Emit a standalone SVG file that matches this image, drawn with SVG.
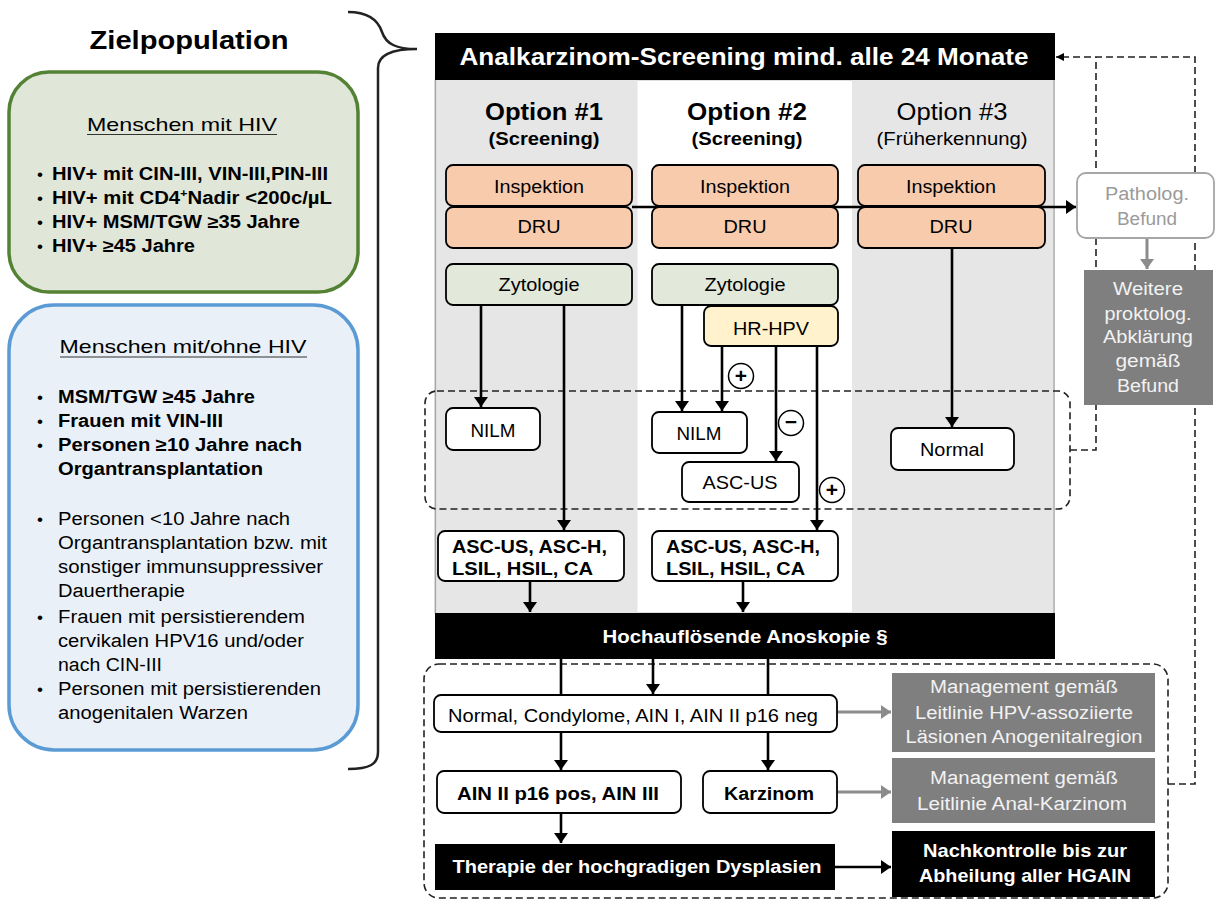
<svg xmlns="http://www.w3.org/2000/svg" width="1215" height="902" viewBox="0 0 1215 902">
<style>
text{font-family:"Liberation Sans",Arial,Helvetica,sans-serif;fill:#000}
.b{font-weight:bold}
.m{text-anchor:middle}
.w{fill:#fff}
.lg{fill:#f2f2f2}
.gt{fill:#9a9a9a}
.box{fill:#fff;stroke:#000;stroke-width:1.8}
.insp{fill:#f8cbad;stroke:#000;stroke-width:1.8}
.zyt{fill:#e2e8da;stroke:#000;stroke-width:1.8}
.hpv{fill:#fff2cc;stroke:#000;stroke-width:1.8}
.blk{fill:#000}
.gry{fill:#7f7f7f}
.arr{fill:none;stroke:#000;stroke-width:2.6;marker-end:url(#ah)}
.ln{fill:none;stroke:#000;stroke-width:2.6}
.garr{fill:none;stroke:#8c8c8c;stroke-width:3;marker-end:url(#gh)}
.dash{fill:none;stroke:#222;stroke-width:1.6;stroke-dasharray:7 4}
.circ{fill:#fff;stroke:#000;stroke-width:1.5}
</style>
<defs>
<marker id="ah" viewBox="0 0 10 14" refX="10" refY="7" markerWidth="10" markerHeight="14" markerUnits="userSpaceOnUse" orient="auto"><path d="M0,0 L10,7 L0,14 z" fill="#000"/></marker>
<marker id="gh" viewBox="0 0 10 14" refX="10" refY="7" markerWidth="10" markerHeight="14" markerUnits="userSpaceOnUse" orient="auto"><path d="M0,0 L10,7 L0,14 z" fill="#8c8c8c"/></marker>
<marker id="sh" viewBox="0 0 10 10" refX="10" refY="5" markerWidth="8" markerHeight="8" markerUnits="userSpaceOnUse" orient="auto"><path d="M0,0 L10,5 L0,10 z" fill="#000"/></marker>
</defs>

<!-- Left side -->
<g id="title">
<text x="189" y="49" class="b m" font-size="26" textLength="199" lengthAdjust="spacingAndGlyphs">Zielpopulation</text>
</g>
<g id="brace">
<path d="M348,12 C368,12 378,20 382,32 C386,44 396,49 417,49 C394,49 378,54 378,68 L378,752 C378,764 370,769 348,769" fill="none" stroke="#222" stroke-width="2.5"/>
</g>

<g id="hiv">
<rect x="9" y="72" width="349" height="220" rx="40" fill="#e0e6d8" stroke="#548235" stroke-width="3.5"/>
<text x="182" y="131" class="m" font-size="18.5" fill="#222" textLength="190" lengthAdjust="spacingAndGlyphs">Menschen  mit HIV</text>
<line x1="87" y1="134.5" x2="277" y2="134.5" stroke="#333" stroke-width="1.2"/>
<g font-size="17">
<text x="40" y="180" class="m">•</text>
<text x="40" y="204" class="m">•</text>
<text x="40" y="228" class="m">•</text>
<text x="40" y="252" class="m">•</text>
</g>
<g font-size="17.5" class="b">
<text x="52" y="180" class="b" textLength="276" lengthAdjust="spacingAndGlyphs">HIV+ mit CIN-III, VIN-III,PIN-III</text>
<text x="52" y="204" class="b" textLength="280" lengthAdjust="spacingAndGlyphs">HIV+ mit CD4<tspan font-size="11" dy="-7">+</tspan><tspan dy="7">Nadir &lt;200c/µL</tspan></text>
<text x="52" y="228" class="b" textLength="248" lengthAdjust="spacingAndGlyphs">HIV+ MSM/TGW ≥35 Jahre</text>
<text x="52" y="252" class="b" textLength="143" lengthAdjust="spacingAndGlyphs">HIV+ ≥45 Jahre</text>
</g>
</g>

<g id="hiv-ohne">
<rect x="9" y="305" width="349" height="445" rx="45" fill="#eaf0f7" stroke="#5b9bd5" stroke-width="3.5"/>
<text x="183" y="353" class="m" font-size="18.5" fill="#222" textLength="247" lengthAdjust="spacingAndGlyphs">Menschen  mit/ohne HIV</text>
<line x1="60" y1="357" x2="307" y2="357" stroke="#333" stroke-width="1.2"/>
<g font-size="17">
<text x="40" y="403" class="m">•</text>
<text x="40" y="427" class="m">•</text>
<text x="40" y="451" class="m">•</text>
<text x="40" y="525" class="m">•</text>
<text x="40" y="623" class="m">•</text>
<text x="40" y="695" class="m">•</text>
</g>
<g font-size="18">
<text x="58" y="403" class="b" textLength="197" lengthAdjust="spacingAndGlyphs">MSM/TGW ≥45 Jahre</text>
<text x="58" y="427" class="b" textLength="165" lengthAdjust="spacingAndGlyphs">Frauen mit VIN-III</text>
<text x="58" y="451" class="b" textLength="244" lengthAdjust="spacingAndGlyphs">Personen ≥10 Jahre nach</text>
<text x="58" y="475" class="b" textLength="205" lengthAdjust="spacingAndGlyphs">Organtransplantation</text>
<text x="58" y="525" fill="#222" textLength="232" lengthAdjust="spacingAndGlyphs">Personen &lt;10 Jahre nach</text>
<text x="58" y="549" fill="#222" textLength="269" lengthAdjust="spacingAndGlyphs">Organtransplantation bzw. mit</text>
<text x="58" y="573" fill="#222" textLength="265" lengthAdjust="spacingAndGlyphs">sonstiger immunsuppressiver</text>
<text x="58" y="597" fill="#222" textLength="127" lengthAdjust="spacingAndGlyphs">Dauertherapie</text>
<text x="58" y="623" fill="#222" textLength="247" lengthAdjust="spacingAndGlyphs">Frauen mit persistierendem</text>
<text x="58" y="647" fill="#222" textLength="246" lengthAdjust="spacingAndGlyphs">cervikalen HPV16 und/oder</text>
<text x="58" y="671" fill="#222" textLength="104" lengthAdjust="spacingAndGlyphs">nach CIN-III</text>
<text x="58" y="695" fill="#222" textLength="263" lengthAdjust="spacingAndGlyphs">Personen mit persistierenden</text>
<text x="58" y="719" fill="#222" textLength="190" lengthAdjust="spacingAndGlyphs">anogenitalen Warzen</text>
</g>
</g>

<!-- Columns background -->
<g id="columns">
<rect x="435" y="80" width="619" height="533" fill="#fff" stroke="#bdbdbd" stroke-width="1"/>
<rect x="435.5" y="80" width="202" height="533" fill="#e6e6e6"/>
<rect x="852" y="80" width="202" height="533" fill="#e6e6e6"/>
<line x1="1054" y1="80" x2="1054" y2="613" stroke="#a6a6a6" stroke-width="1.2"/>
<line x1="435.5" y1="80" x2="435.5" y2="613" stroke="#a6a6a6" stroke-width="1.2"/>
<text x="544" y="120" class="b m" font-size="23" textLength="118" lengthAdjust="spacingAndGlyphs">Option #1</text>
<text x="544" y="145" class="b m" font-size="18" textLength="111" lengthAdjust="spacingAndGlyphs">(Screening)</text>
<text x="747" y="120" class="b m" font-size="23" textLength="120" lengthAdjust="spacingAndGlyphs">Option #2</text>
<text x="747" y="145" class="b m" font-size="18" textLength="111" lengthAdjust="spacingAndGlyphs">(Screening)</text>
<text x="952" y="120" class="m" font-size="23" fill="#111" textLength="111" lengthAdjust="spacingAndGlyphs">Option #3</text>
<text x="952" y="145" class="m" font-size="18" fill="#111" textLength="151" lengthAdjust="spacingAndGlyphs">(Früherkennung)</text>
</g>

<!-- Frames (dashed groupings) -->
<g id="frames">
<rect x="425" y="391" width="645" height="118" rx="12" class="dash"/>
<rect x="424" y="664" width="744" height="234" rx="15" class="dash"/>
</g>

<!-- Connectors -->
<g id="connectors">
<path d="M632,207 H1076" class="arr"/>
<path d="M481,305 V407" class="arr"/>
<path d="M564,305 V530" class="arr"/>
<path d="M530,581 V612" class="arr"/>
<path d="M682,305 V411" class="arr"/>
<path d="M722,346 V411" class="arr"/>
<path d="M776,346 V461" class="arr"/>
<path d="M817,346 V530" class="arr"/>
<path d="M743,581 V612" class="arr"/>
<path d="M952,248 V427" class="arr"/>
<path d="M1147,238 V269" class="garr"/>
<path d="M561,659 V695" class="ln"/>
<path d="M653,659 V694" class="arr"/>
<path d="M768,659 V695" class="ln"/>
<path d="M561,732 V770" class="arr"/>
<path d="M768,732 V770" class="arr"/>
<path d="M561,813 V843" class="arr"/>
<path d="M835,867 H891" class="arr"/>
<path d="M837,712 H891" class="garr"/>
<path d="M837,792 H891" class="garr"/>
<path d="M1070,450 H1096 V57" class="dash"/>
<path d="M1168,784 H1195 V57 H1056" class="dash" marker-end="url(#sh)"/>
</g>

<!-- Header bar -->
<g id="header">
<rect x="435" y="33" width="620" height="47" class="blk"/>
<text x="744" y="65" class="b m w" font-size="24" textLength="569" lengthAdjust="spacingAndGlyphs">Analkarzinom-Screening mind. alle 24 Monate</text>
</g>

<!-- Option 1 nodes -->
<g id="o1-insp"><rect x="446" y="165" width="186" height="41" rx="7" class="insp"/><text x="539" y="193" class="m" font-size="18" fill="#222" textLength="90" lengthAdjust="spacingAndGlyphs">Inspektion</text></g>
<g id="o1-dru"><rect x="446" y="207" width="186" height="41" rx="7" class="insp"/><text x="539" y="233" class="m" font-size="18" fill="#222" textLength="43" lengthAdjust="spacingAndGlyphs">DRU</text></g>
<g id="o1-zyt"><rect x="446" y="264" width="186" height="41" rx="7" class="zyt"/><text x="539" y="291" class="m" font-size="18" fill="#222" textLength="81" lengthAdjust="spacingAndGlyphs">Zytologie</text></g>
<g id="o1-nilm"><rect x="446" y="408" width="94" height="42" rx="7" class="box"/><text x="493" y="437" class="m" font-size="18" fill="#222" textLength="45" lengthAdjust="spacingAndGlyphs">NILM</text></g>
<g id="o1-asc"><rect x="438" y="531" width="186" height="50" rx="7" class="box"/>
<text x="452" y="553" class="b" font-size="18" textLength="155" lengthAdjust="spacingAndGlyphs">ASC-US, ASC-H,</text>
<text x="452" y="575" class="b" font-size="18" textLength="141" lengthAdjust="spacingAndGlyphs">LSIL, HSIL, CA</text></g>

<!-- Option 2 nodes -->
<g id="o2-insp"><rect x="652" y="165" width="186" height="41" rx="7" class="insp"/><text x="745" y="193" class="m" font-size="18" fill="#222" textLength="90" lengthAdjust="spacingAndGlyphs">Inspektion</text></g>
<g id="o2-dru"><rect x="652" y="207" width="186" height="41" rx="7" class="insp"/><text x="745" y="233" class="m" font-size="18" fill="#222" textLength="43" lengthAdjust="spacingAndGlyphs">DRU</text></g>
<g id="o2-zyt"><rect x="652" y="264" width="186" height="41" rx="7" class="zyt"/><text x="745" y="291" class="m" font-size="18" fill="#222" textLength="81" lengthAdjust="spacingAndGlyphs">Zytologie</text></g>
<g id="o2-hpv"><rect x="704" y="306" width="134" height="40" rx="7" class="hpv"/><text x="771" y="335" class="m" font-size="18" fill="#222" textLength="76" lengthAdjust="spacingAndGlyphs">HR-HPV</text></g>
<g id="o2-nilm"><rect x="652" y="412" width="95" height="41" rx="7" class="box"/><text x="699" y="440" class="m" font-size="18" fill="#222" textLength="45" lengthAdjust="spacingAndGlyphs">NILM</text></g>
<g id="o2-ascus"><rect x="682" y="462" width="117" height="40" rx="7" class="box"/><text x="740" y="489" class="m" font-size="18" fill="#222" textLength="75" lengthAdjust="spacingAndGlyphs">ASC-US</text></g>
<g id="o2-asc"><rect x="652" y="531" width="186" height="50" rx="7" class="box"/>
<text x="666" y="553" class="b" font-size="18" textLength="154" lengthAdjust="spacingAndGlyphs">ASC-US, ASC-H,</text>
<text x="666" y="575" class="b" font-size="18" textLength="139" lengthAdjust="spacingAndGlyphs">LSIL, HSIL, CA</text></g>
<g id="sign-plus1"><circle cx="741" cy="376" r="12.5" class="circ"/><text x="741" y="383" class="b m" font-size="21">+</text></g>
<g id="sign-minus"><circle cx="791" cy="423" r="12.5" class="circ"/><text x="791" y="429" class="b m" font-size="21">−</text></g>
<g id="sign-plus2"><circle cx="832" cy="490" r="12.5" class="circ"/><text x="832" y="497" class="b m" font-size="21">+</text></g>

<!-- Option 3 nodes -->
<g id="o3-insp"><rect x="858" y="165" width="187" height="41" rx="7" class="insp"/><text x="951" y="193" class="m" font-size="18" fill="#222" textLength="90" lengthAdjust="spacingAndGlyphs">Inspektion</text></g>
<g id="o3-dru"><rect x="858" y="207" width="187" height="41" rx="7" class="insp"/><text x="951" y="233" class="m" font-size="18" fill="#222" textLength="43" lengthAdjust="spacingAndGlyphs">DRU</text></g>
<g id="o3-normal"><rect x="891" y="428" width="123" height="42" rx="7" class="box"/><text x="952" y="456" class="m" font-size="18" fill="#222" textLength="64" lengthAdjust="spacingAndGlyphs">Normal</text></g>

<!-- Right side -->
<g id="patholog"><rect x="1077" y="173" width="137" height="65" rx="9" fill="#fff" stroke="#a6a6a6" stroke-width="1.8"/>
<text x="1147" y="200" class="m gt" font-size="18" textLength="84" lengthAdjust="spacingAndGlyphs">Patholog.</text>
<text x="1147" y="225" class="m gt" font-size="18" textLength="60" lengthAdjust="spacingAndGlyphs">Befund</text></g>
<g id="weitere"><rect x="1084" y="270" width="129" height="135" class="gry"/>
<text x="1148" y="295" class="m lg" font-size="18" textLength="70" lengthAdjust="spacingAndGlyphs">Weitere</text>
<text x="1148" y="320" class="m lg" font-size="18" textLength="87" lengthAdjust="spacingAndGlyphs">proktolog.</text>
<text x="1148" y="343" class="m lg" font-size="18" textLength="90" lengthAdjust="spacingAndGlyphs">Abklärung</text>
<text x="1148" y="367" class="m lg" font-size="18" textLength="65" lengthAdjust="spacingAndGlyphs">gemäß</text>
<text x="1148" y="392" class="m lg" font-size="18" textLength="62" lengthAdjust="spacingAndGlyphs">Befund</text></g>

<!-- Lower part -->
<g id="hra"><rect x="435" y="613" width="620" height="46" class="blk"/>
<text x="745" y="643" class="b m w" font-size="18" textLength="285" lengthAdjust="spacingAndGlyphs">Hochauflösende Anoskopie §</text></g>
<g id="normal-cond"><rect x="434" y="695" width="403" height="37" rx="7" class="box"/>
<text x="633" y="722" class="m" font-size="18" fill="#222" textLength="370" lengthAdjust="spacingAndGlyphs">Normal, Condylome, AIN I, AIN II p16 neg</text></g>
<g id="ain"><rect x="437" y="771" width="244" height="42" rx="7" class="box"/>
<text x="558" y="800" class="b m" font-size="18" textLength="202" lengthAdjust="spacingAndGlyphs">AIN II p16 pos, AIN III</text></g>
<g id="karzinom"><rect x="703" y="771" width="134" height="42" rx="7" class="box"/>
<text x="769" y="800" class="b m" font-size="18" textLength="90" lengthAdjust="spacingAndGlyphs">Karzinom</text></g>
<g id="therapie"><rect x="435" y="844" width="400" height="46" class="blk"/>
<text x="637" y="873" class="b m w" font-size="18" textLength="369" lengthAdjust="spacingAndGlyphs">Therapie der hochgradigen Dysplasien</text></g>
<g id="mgmt1"><rect x="892" y="673" width="263" height="79" class="gry"/>
<text x="1024" y="693" class="m lg" font-size="18" textLength="188" lengthAdjust="spacingAndGlyphs">Management gemäß</text>
<text x="1024" y="719" class="m lg" font-size="18" textLength="218" lengthAdjust="spacingAndGlyphs">Leitlinie HPV-assoziierte</text>
<text x="1024" y="743" class="m lg" font-size="18" textLength="237" lengthAdjust="spacingAndGlyphs">Läsionen Anogenitalregion</text></g>
<g id="mgmt2"><rect x="892" y="758" width="263" height="65" class="gry"/>
<text x="1024" y="784" class="m lg" font-size="18" textLength="188" lengthAdjust="spacingAndGlyphs">Management gemäß</text>
<text x="1022" y="810" class="m lg" font-size="18" textLength="210" lengthAdjust="spacingAndGlyphs">Leitlinie Anal-Karzinom</text></g>
<g id="nachkontrolle"><rect x="892" y="831" width="263" height="66" class="blk"/>
<text x="1025" y="857" class="b m w" font-size="19" textLength="204" lengthAdjust="spacingAndGlyphs">Nachkontrolle bis zur</text>
<text x="1025" y="882" class="b m w" font-size="19" textLength="212" lengthAdjust="spacingAndGlyphs">Abheilung aller HGAIN</text></g>
</svg>
